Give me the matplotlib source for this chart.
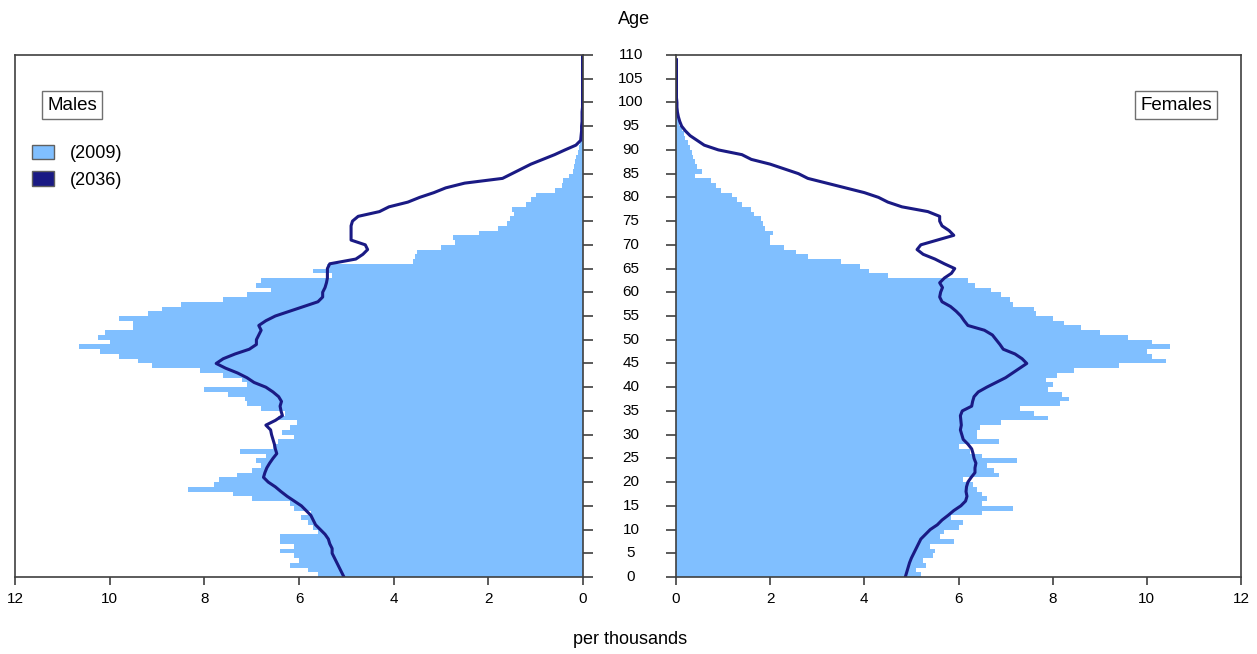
import numpy as np
import matplotlib
matplotlib.use("Agg")
import matplotlib.pyplot as plt
from matplotlib.patches import Patch

plt.rcParams['font.family'] = ['Liberation Sans', 'DejaVu Sans']

ages = list(range(0, 111))

males_2009 = [5.6, 5.8, 6.2, 6.0, 6.1, 6.4, 6.1, 6.4, 6.4, 5.6,
              5.7, 5.8, 5.95, 5.75, 6.1, 6.2, 7.0, 7.4, 8.35, 7.8,
              7.7, 7.3, 7.0, 6.8, 6.9, 6.7, 7.25, 6.55, 6.45, 6.1,
              6.35, 6.2, 6.05, 6.45, 6.3, 6.8, 7.1, 7.15, 7.5, 8.0,
              7.1, 7.2, 7.6, 8.1, 9.1, 9.4, 9.8, 10.2, 10.65, 10.0,
              10.25, 10.1, 9.5, 9.5, 9.8, 9.2, 8.9, 8.5, 7.6, 7.1,
              6.6, 6.9, 6.8, 5.3, 5.7, 5.4, 3.6, 3.55, 3.5, 3.0,
              2.7, 2.75, 2.2, 1.8, 1.6, 1.55, 1.45, 1.5, 1.2, 1.1,
              1.0, 0.6, 0.45, 0.42, 0.3, 0.22, 0.2, 0.17, 0.14, 0.1,
              0.08, 0.07, 0.07, 0.05, 0.05, 0.04, 0.03, 0.02, 0.02, 0.01,
              0.01, 0.0, 0.0, 0.0, 0.0, 0.0, 0.0, 0.0, 0.0, 0.0, 0.0]

males_2036 = [5.05, 5.1, 5.15, 5.2, 5.25, 5.3, 5.3, 5.35, 5.38, 5.45,
              5.55, 5.65, 5.7, 5.75, 5.85, 5.95, 6.1, 6.25, 6.38, 6.5,
              6.65, 6.75, 6.72, 6.68, 6.62, 6.55, 6.47, 6.5, 6.52, 6.55,
              6.58, 6.6, 6.7, 6.5, 6.35, 6.38, 6.4, 6.37, 6.43, 6.55,
              6.7, 6.95, 7.1, 7.3, 7.55, 7.75, 7.6, 7.35, 7.05, 6.9,
              6.9, 6.85, 6.8, 6.85, 6.7, 6.5, 6.2, 5.9, 5.6, 5.5,
              5.5, 5.45, 5.42, 5.4, 5.4, 5.4, 5.35, 4.8, 4.65, 4.55,
              4.6, 4.9, 4.9, 4.9, 4.9, 4.87, 4.75, 4.3, 4.1, 3.7,
              3.45, 3.15, 2.9, 2.5, 1.7, 1.5, 1.3, 1.1, 0.85, 0.6,
              0.38, 0.15, 0.05, 0.04, 0.03, 0.03, 0.02, 0.02, 0.02, 0.01,
              0.01, 0.01, 0.01, 0.01, 0.01, 0.01, 0.01, 0.01, 0.01, 0.01, 0.01]

females_2009 = [5.2, 5.1, 5.3, 5.25, 5.45, 5.5, 5.4, 5.9, 5.6, 5.7,
                6.0, 6.1, 5.85, 6.5, 7.15, 6.5, 6.6, 6.5, 6.4, 6.3,
                6.1, 6.85, 6.75, 6.6, 7.25, 6.5, 6.25, 6.0, 6.85, 6.4,
                6.4, 6.45, 6.9, 7.9, 7.6, 7.3, 8.15, 8.35, 8.2, 7.9,
                8.0, 7.85, 8.1, 8.45, 9.4, 10.4, 10.1, 10.0, 10.5, 10.1,
                9.6, 9.0, 8.6, 8.25, 8.0, 7.65, 7.6, 7.15, 7.1, 6.9,
                6.7, 6.35, 6.2, 4.5, 4.1, 3.9, 3.5, 2.8, 2.55, 2.3,
                2.0, 2.0, 2.05, 1.9, 1.85, 1.8, 1.65, 1.6, 1.4, 1.3,
                1.2, 0.95, 0.85, 0.75, 0.4, 0.55, 0.45, 0.4, 0.37, 0.33,
                0.3, 0.25, 0.2, 0.18, 0.12, 0.07, 0.04, 0.03, 0.02, 0.01,
                0.01, 0.0, 0.0, 0.0, 0.0, 0.0, 0.0, 0.0, 0.0, 0.0, 0.0]

females_2036 = [4.87, 4.9, 4.93, 4.96, 5.0, 5.05, 5.1, 5.15, 5.2, 5.3,
                5.4, 5.55, 5.65, 5.78, 5.9, 6.05, 6.15, 6.18, 6.16, 6.17,
                6.2, 6.27, 6.35, 6.35, 6.37, 6.33, 6.31, 6.28, 6.2, 6.1,
                6.07, 6.04, 6.06, 6.05, 6.04, 6.08, 6.28, 6.3, 6.33, 6.42,
                6.6, 6.8, 7.0, 7.15, 7.3, 7.45, 7.35, 7.2, 6.95, 6.88,
                6.8, 6.72, 6.55, 6.2, 6.12, 6.05, 5.95, 5.83, 5.65, 5.6,
                5.62, 5.66, 5.6, 5.7, 5.85, 5.92, 5.7, 5.5, 5.25, 5.12,
                5.2, 5.55, 5.9, 5.8, 5.65, 5.6, 5.6, 5.35, 4.8, 4.5,
                4.3, 4.0, 3.6, 3.2, 2.8, 2.6, 2.3, 2.0, 1.6, 1.4,
                0.9, 0.6, 0.45, 0.3, 0.2, 0.12, 0.08, 0.05, 0.03, 0.02,
                0.02, 0.01, 0.01, 0.01, 0.01, 0.01, 0.01, 0.01, 0.01, 0.01]

age_ticks = list(range(0, 111, 5))
x_ticks = [0, 2, 4, 6, 8, 10, 12]

LIGHT = '#80BFFF'
DARK = '#1A1A84'
SPINE = '#404040'

W, H = 1257, 654
fig = plt.figure(figsize=(W / 100, H / 100), dpi=100)

def fx(px):
    return px / W

def fy(py):
    return 1 - py / H

axL = fig.add_axes([fx(15), fy(577), (583 - 15) / W, (577 - 55) / H])
axR = fig.add_axes([fx(676), fy(577), (1241 - 676) / W, (577 - 55) / H])

ages_arr = np.array(ages)
fem_ages = ages_arr[:len(females_2036)]

axL.barh(ages_arr, males_2009, height=1.0, align='edge', color=LIGHT, linewidth=0)
axL.plot(males_2036, ages_arr, color=DARK, lw=2.2, solid_joinstyle='round')
axR.barh(ages_arr, females_2009, height=1.0, align='edge', color=LIGHT, linewidth=0)
axR.plot(females_2036, fem_ages, color=DARK, lw=2.2, solid_joinstyle='round')

for ax in (axL, axR):
    ax.set_ylim(0, 110)
    ax.set_xticks(x_ticks)
    ax.set_xticklabels([str(t) for t in x_ticks], fontsize=11)
    ax.set_yticks(age_ticks)
    for s in ax.spines.values():
        s.set_color(SPINE)
        s.set_linewidth(1.2)
    ax.tick_params(axis='x', direction='out', length=6, width=1.2, color=SPINE, pad=5)

axL.set_xlim(12, 0)
axR.set_xlim(0, 12)

axL.yaxis.tick_right()
axL.tick_params(axis='y', direction='out', length=7, width=1.2, color=SPINE, labelright=False, labelleft=False)
axR.yaxis.tick_left()
axR.tick_params(axis='y', direction='out', length=7, width=1.2, color=SPINE, labelleft=False, labelright=False)

# Age labels in the centre gap
for a in age_ticks:
    y = axR.transData.transform((0, a))[1]
    yf = fig.transFigure.inverted().transform((0, y))[1]
    fig.text(fx(631), yf, str(a), ha='center', va='center', fontsize=11)

fig.text(fx(634), fy(19), 'Age', ha='center', va='center', fontsize=13)
fig.text(fx(630), fy(639), 'per thousands', ha='center', va='center', fontsize=13)

box = dict(boxstyle='square,pad=0.28', fc='white', ec='#707070', lw=1)
fig.text(fx(72), fy(105), 'Males', ha='center', va='center', fontsize=13.5, bbox=box)
fig.text(fx(1176), fy(105), 'Females', ha='center', va='center', fontsize=13.5, bbox=box)

handles = [Patch(facecolor=LIGHT, edgecolor='#606060', lw=1),
           Patch(facecolor=DARK, edgecolor='#606060', lw=1)]
fig.legend(handles, ['(2009)', '(2036)'], loc='upper left',
           bbox_to_anchor=(fx(32), fy(145)), frameon=False, fontsize=13,
           handlelength=1.2, handleheight=0.85, handletextpad=0.9,
           labelspacing=0.5, borderpad=0, borderaxespad=0)

fig.savefig('out.png', dpi=100)
